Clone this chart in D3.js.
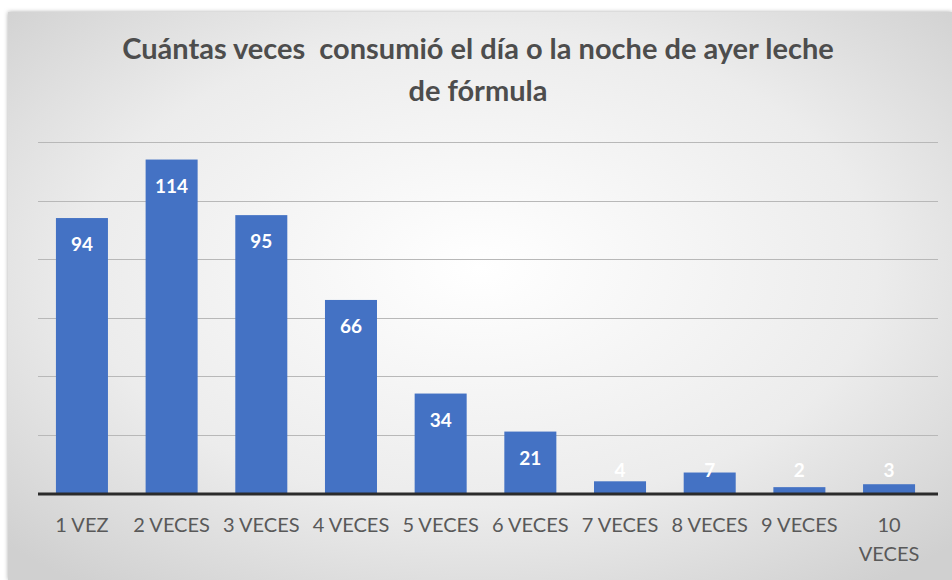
<!DOCTYPE html>
<html>
<head>
<meta charset="utf-8">
<script src="https://cdn.jsdelivr.net/npm/d3@7"></script>
<style>
  body { margin: 0; background: #fff; }
  svg { display: block; }
  text { white-space: pre; }
</style>
</head>
<body>
<div id="chart"></div>
<script>
var categories = ['1 VEZ', '2 VECES', '3 VECES', '4 VECES', '5 VECES', '6 VECES', '7 VECES', '8 VECES', '9 VECES', '10 VECES'];
var values = [94, 114, 95, 66, 34, 21, 4, 7, 2, 3];
var yTicks = [0, 20, 40, 60, 80, 100, 120];
var titleLines = ['Cuántas veces  consumió el día o la noche de ayer leche', 'de fórmula'];

var W = 952, H = 580;
var margin = { top: 141, right: 14, bottom: 87, left: 38 };
var font = 'Lato, "Open Sans", sans-serif';

var svg = d3.select('#chart').append('svg')
  .attr('width', W)
  .attr('height', H);

var defs = svg.append('defs');
var grad = defs.append('radialGradient')
  .attr('id', 'bg')
  .attr('cx', '50%').attr('cy', '45%').attr('r', '70%');
grad.append('stop').attr('offset', '0%').attr('stop-color', '#ffffff');
grad.append('stop').attr('offset', '60%').attr('stop-color', '#ececec');
grad.append('stop').attr('offset', '100%').attr('stop-color', '#d0d0d0');

var shadow = defs.append('filter').attr('id', 'sh')
  .attr('x', '-5%').attr('y', '-5%').attr('width', '110%').attr('height', '110%');
shadow.append('feDropShadow')
  .attr('dx', 0).attr('dy', 0).attr('stdDeviation', 2)
  .attr('flood-color', '#888').attr('flood-opacity', 0.7);

svg.append('rect')
  .attr('x', 8).attr('y', 12)
  .attr('width', W - 8).attr('height', H - 12)
  .attr('fill', 'url(#bg)')
  .attr('filter', 'url(#sh)');

var x = d3.scaleBand()
  .domain(categories)
  .range([margin.left, 933])
  .paddingInner(0.42)
  .paddingOuter(0.2);

var y = d3.scaleLinear()
  .domain([0, 120])
  .range([H - margin.bottom, 142]);

// gridlines
svg.append('g')
  .selectAll('line')
  .data(yTicks.slice(1))
  .enter()
    .append('line')
    .attr('x1', margin.left)
    .attr('x2', W - margin.right)
    .attr('y1', d => Math.round(y(d)) + 0.5)
    .attr('y2', d => Math.round(y(d)) + 0.5)
    .attr('stroke', '#b8b8b8')
    .attr('stroke-width', 1.2);

// bars
svg.append('g')
  .selectAll('rect')
  .data(values)
  .enter()
    .append('rect')
    .attr('x', (d, i) => x(categories[i]))
    .attr('y', d => y(d))
    .attr('width', x.bandwidth())
    .attr('height', d => y(0) - y(d))
    .attr('fill', '#4472c4');

// value labels
svg.append('g')
  .selectAll('text')
  .data(values)
  .enter()
    .append('text')
    .attr('x', (d, i) => x(categories[i]) + x.bandwidth() / 2)
    .attr('y', d => d > 15 ? y(d) + 33 : y(0) - 16)
    .attr('text-anchor', 'middle')
    .attr('font-family', font)
    .attr('font-weight', 'bold')
    .attr('font-size', 19)
    .attr('fill', '#ffffff')
    .text(d => d);

// x axis line
svg.append('line')
  .attr('x1', margin.left)
  .attr('x2', W - margin.right)
  .attr('y1', y(0) + 1)
  .attr('y2', y(0) + 1)
  .attr('stroke', '#2b2b2b')
  .attr('stroke-width', 3);

// x labels
var xl = svg.append('g')
  .selectAll('text')
  .data(categories)
  .enter()
    .append('text')
    .attr('x', d => x(d) + x.bandwidth() / 2)
    .attr('y', 532)
    .attr('text-anchor', 'middle')
    .attr('font-family', font)
    .attr('font-size', 20)
    .attr('fill', '#595959');

xl.each(function (d) {
  var t = d3.select(this);
  if (d === '10 VECES') {
    t.append('tspan').attr('x', x(d) + x.bandwidth() / 2).text('10');
    t.append('tspan').attr('x', x(d) + x.bandwidth() / 2).attr('dy', 29).text('VECES');
  } else {
    t.text(d);
  }
});

// title
svg.append('text')
  .attr('text-anchor', 'middle')
  .attr('font-family', font)
  .attr('font-weight', 'bold')
  .attr('font-size', 29)
  .attr('fill', '#4d4d4d')
  .selectAll('tspan')
  .data(titleLines)
  .enter()
    .append('tspan')
    .attr('x', 478)
    .attr('y', (d, i) => 59 + i * 42)
    .text(d => d);
</script>
</body>
</html>
